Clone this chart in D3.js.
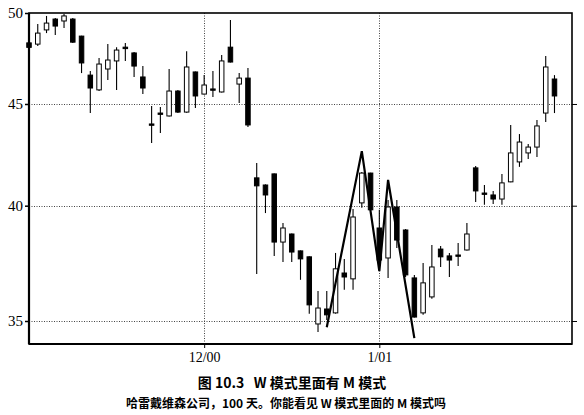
<!DOCTYPE html>
<html><head><meta charset="utf-8">
<script src="https://cdn.jsdelivr.net/npm/d3@7"></script>
<style>body{margin:0;background:#fff}svg{display:block}</style>
</head><body>
<svg id="c" width="584" height="415"></svg>
<script>
// trading-day index 0..60 (Nov 2000 – Feb 2001)
const openP = [48.30,48.23,49.03,49.65,49.54,49.65,48.68,46.53,45.74,46.86,
  47.30,48.06,47.74,46.43,43.97,44.53,44.38,45.68,44.58,46.70,
  45.52,45.79,45.63,48.06,46.05,46.37,41.31,40.97,41.50,38.35,
  38.71,37.96,37.70,34.88,35.49,35.33,37.00,36.75,40.13,41.54,
  38.98,37.65,39.94,38.89,36.79,35.33,35.99,38.04,37.74,37.78,
  38.00,41.79,40.59,40.50,40.31,41.12,42.08,42.52,42.81,44.53,
  46.32];
const closeP = [48.05,48.85,49.42,49.25,49.83,48.34,47.19,45.84,47.13,47.35,
  47.90,47.98,47.02,45.84,43.97,44.53,45.68,44.58,46.97,45.42,
  46.00,45.79,47.30,47.24,46.37,43.92,40.93,40.50,38.35,38.98,
  37.91,37.61,35.66,35.53,35.25,37.18,36.83,39.48,41.54,39.81,
  37.56,39.94,38.44,36.92,35.16,36.58,37.26,37.70,37.56,37.78,
  38.71,40.69,40.59,40.31,41.07,42.52,43.06,42.81,43.87,46.97,
  45.42];
const highP = [48.40,49.36,49.83,49.71,49.94,49.71,48.70,46.75,47.46,48.23,
  48.06,48.29,47.79,47.02,44.89,44.84,46.86,45.74,47.84,46.72,
  46.53,46.75,47.63,49.60,46.64,46.91,42.03,41.00,41.52,39.21,
  38.73,37.98,37.72,36.24,36.24,37.87,37.61,39.85,41.59,41.56,
  39.81,40.27,40.27,38.93,36.92,37.43,38.22,38.18,37.87,38.31,
  39.21,41.88,40.97,40.69,41.50,43.92,43.46,42.96,44.17,47.57,
  46.53];
const lowP = [47.95,48.12,48.85,48.74,49.14,48.29,46.64,44.53,45.68,46.27,
  45.74,47.30,46.43,45.52,43.01,43.51,44.35,44.53,44.55,44.79,
  45.50,45.36,45.60,47.22,45.05,43.82,36.96,39.66,37.74,37.48,
  37.48,36.71,35.29,34.56,35.04,35.30,36.29,36.29,39.90,39.76,
  37.13,36.79,38.09,36.83,35.14,35.25,35.91,37.26,36.83,37.30,
  37.98,40.17,40.04,40.08,40.04,41.10,41.84,42.22,42.32,44.07,
  44.53];
// W / M pattern zigzag
const zigIdx = [34, 38, 40, 41, 44];
const zigPrice = [34.75, 42.61, 37.08, 41.21, 34.31];
// ticks
const yTicks = [35, 40, 45, 50];
const xTickIdx = [20, 40];
const xTickLabels = ["12/00", "1/01"];
const caption1 = "图 10.3   W 模式里面有 M 模式";
const caption2 = "哈雷戴维森公司，100 天。你能看见 W 模式里面的 M 模式吗";

const L = 29, R = 572, T = 13, B = 344;
const svg = d3.select("#c");
const x = d3.scaleLinear().domain([0, 62]).range([L, R]);
const y = d3.scaleLog().domain([34.08, 50]).range([B, T]);

// gridlines
const grid = svg.append("g").attr("stroke", "#444").attr("stroke-width", 1).attr("stroke-dasharray", "1,1.5");
grid.selectAll("line.h").data(yTicks.filter(d => d < 50)).join("line")
  .attr("x1", L).attr("x2", R).attr("y1", d => Math.round(y(d)) + 0.5).attr("y2", d => Math.round(y(d)) + 0.5);
grid.selectAll("line.v").data(xTickIdx).join("line")
  .attr("x1", d => Math.round(x(d)) + 0.5).attr("x2", d => Math.round(x(d)) + 0.5).attr("y1", T).attr("y2", B);

// axes
const yAxisL = d3.axisLeft(y).tickValues(yTicks).tickFormat(d3.format("d")).tickSize(4).tickPadding(2);
const gL = svg.append("g").attr("transform", `translate(${L},0)`).call(yAxisL);
gL.select(".domain").remove();
gL.selectAll("text").attr("font-family", "'Liberation Serif', serif").attr("font-size", 15).attr("fill", "#000");
gL.selectAll("line").attr("stroke-width", 1.5);
const yAxisR = d3.axisRight(y).tickValues(yTicks.filter(d => d < 50)).tickFormat("").tickSize(5);
const gR = svg.append("g").attr("transform", `translate(${R},0)`).call(yAxisR);
gR.select(".domain").remove();
const xAxis = d3.axisBottom(x).tickValues(xTickIdx).tickFormat((d, i) => xTickLabels[i]).tickSize(4).tickPadding(4);
const gX = svg.append("g").attr("transform", `translate(0,${B})`).call(xAxis);
gX.select(".domain").remove();
gX.selectAll("text").attr("font-family", "'Liberation Serif', serif").attr("font-size", 14).attr("fill", "#000");

// candles
const data = openP.map((o, i) => ({i, o, c: closeP[i], h: highP[i], l: lowP[i]}));
const bw = 4.5;
const cg = svg.append("g");
cg.selectAll("line.w").data(data).join("line")
  .attr("x1", d => x(d.i)).attr("x2", d => x(d.i))
  .attr("y1", d => y(d.h)).attr("y2", d => y(d.l))
  .attr("stroke", "#000").attr("stroke-width", 1.1);
cg.selectAll("rect").data(data).join("rect")
  .attr("x", d => x(d.i) - bw / 2)
  .attr("y", d => Math.min(y(d.o), y(d.c)))
  .attr("width", bw)
  .attr("height", d => Math.max(1.3, Math.abs(y(d.o) - y(d.c))))
  .attr("fill", d => d.c > d.o ? "#fff" : "#000")
  .attr("stroke", "#000").attr("stroke-width", 1);

// zigzag
const line = d3.line().x(d => x(d[0])).y(d => y(d[1]));
svg.append("path").datum(zigIdx.map((d, k) => [d, zigPrice[k]]))
  .attr("d", line).attr("fill", "none").attr("stroke", "#000").attr("stroke-width", 2.2).attr("stroke-linejoin", "miter");

// frame
svg.append("rect").attr("x", L).attr("y", T).attr("width", R - L).attr("height", B - T)
  .attr("fill", "none").attr("stroke", "#000").attr("stroke-width", 1.6);
svg.append("line").attr("x1", L).attr("x2", L).attr("y1", T).attr("y2", B).attr("stroke", "#000").attr("stroke-width", 2.2);
svg.append("line").attr("x1", L).attr("x2", R).attr("y1", B).attr("y2", B).attr("stroke", "#000").attr("stroke-width", 2);

// captions
svg.append("text").attr("x", 292).attr("y", 388).attr("text-anchor", "middle")
  .attr("font-family", "'Noto Sans CJK SC', sans-serif").attr("font-weight", "bold").attr("font-size", 14)
  .attr("xml:space", "preserve").style("white-space", "pre").text(caption1);
svg.append("text").attr("x", 286).attr("y", 408).attr("text-anchor", "middle")
  .attr("font-family", "'Noto Sans CJK SC', sans-serif").attr("font-weight", "bold").attr("font-size", 12)
  .text(caption2);
</script>
</body></html>
